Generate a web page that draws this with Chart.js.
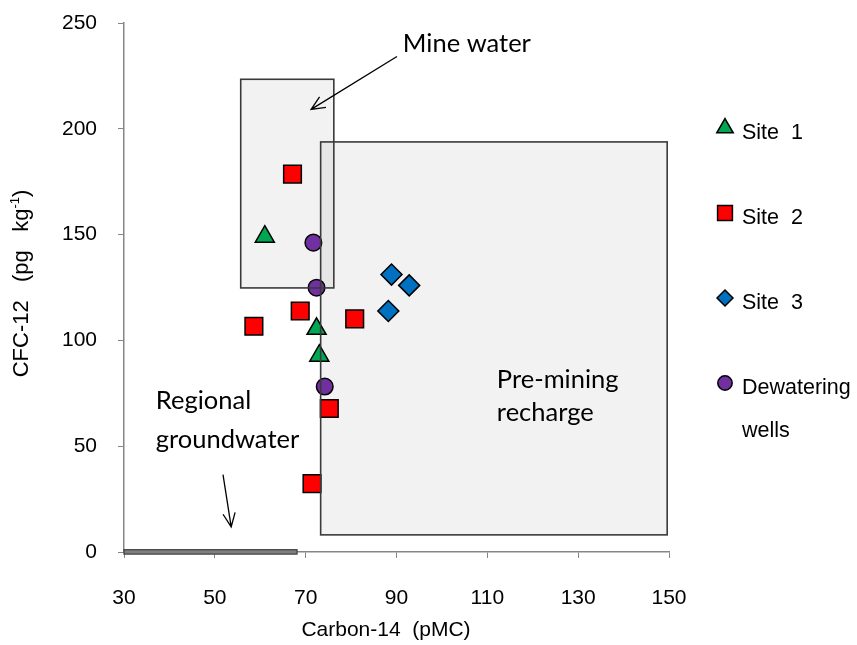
<!DOCTYPE html>
<html>
<head>
<meta charset="utf-8">
<script src="https://cdn.jsdelivr.net/npm/chart.js@4.4.0/dist/chart.umd.min.js"></script>
<style>
  html, body { margin: 0; padding: 0; background: #fff; }
  canvas { display: block; }
</style>
</head>
<body>
<canvas id="chart" width="857" height="645"></canvas>
<script>
// Axis ticks
const xTicks = [30, 50, 70, 90, 110, 130, 150];
const yTicks = [0, 50, 100, 150, 200, 250];

// Carbon-14 (pMC), CFC-12 (pg/kg) per group
const site1C14 = [61.0, 72.4, 73.0];
const site1CFC = [149.0, 105.5, 92.8];
const site2C14 = [67.1, 58.6, 68.8, 80.8, 75.2, 71.4];
const site2CFC = [178.6, 106.7, 113.9, 110.2, 67.8, 32.3];
const site3C14 = [88.9, 92.8, 88.2];
const site3CFC = [131.1, 126.0, 113.9];
const wellsC14 = [71.7, 72.4, 74.2];
const wellsCFC = [146.2, 124.9, 78.2];

// Zones: [xMin, yMin, xMax, yMax] in data units
const mineZone = [55.7, 124.8, 76.2, 223.4];
const premineZone = [73.3, 8.1, 149.6, 193.8];
const regionalBar = [30, -1.0, 68.1, 1.1];

// Arrows: [x1, y1, x2, y2] in data units
const mineArrow = [90.1, 234.2, 71.2, 209.2];
const regionalArrow = [51.8, 36.6, 53.6, 11.9];

function pts(xs, ys) {
    return xs.map((x, i) => ({ x: x, y: ys[i] }));
}

const groups = [
    { label: 'Site  1', data: pts(site1C14, site1CFC), style: 'triangle', color: '#00a651', r: 11, lr: 9.5 },
    { label: 'Site  2', data: pts(site2C14, site2CFC), style: 'rect', color: '#ff0000', r: 12.5, lr: 10.5 },
    { label: 'Site  3', data: pts(site3C14, site3CFC), style: 'rectRot', color: '#0070c0', r: 10.5, lr: 8 },
    { label: 'Dewatering', label2: 'wells', data: pts(wellsC14, wellsCFC), style: 'circle', color: '#7030a0', r: 8.3, lr: 7.2 }
];

const arialFont = '"Liberation Sans", Arial, sans-serif';

function zoneRect(chart, b) {
    const xs = chart.scales.x, ys = chart.scales.y;
    const x1 = xs.getPixelForValue(b[0]), x2 = xs.getPixelForValue(b[2]);
    const y1 = ys.getPixelForValue(b[3]), y2 = ys.getPixelForValue(b[1]);
    return [x1, y1, x2 - x1, y2 - y1];
}

const zonesPlugin = {
    id: 'zones',
    beforeDatasetsDraw(chart) {
        const ctx = chart.ctx;
        ctx.save();
        ctx.fillStyle = 'rgba(0,0,0,0.05)';
        ctx.fillRect(...zoneRect(chart, mineZone));
        ctx.fillRect(...zoneRect(chart, premineZone));
        ctx.fillStyle = '#7f7f7f';
        ctx.strokeStyle = '#404040';
        ctx.lineWidth = 1.2;
        ctx.fillRect(...zoneRect(chart, regionalBar));
        ctx.strokeRect(...zoneRect(chart, regionalBar));
        ctx.restore();
    },
    afterDatasetsDraw(chart) {
        const ctx = chart.ctx;
        const xs = chart.scales.x, ys = chart.scales.y;
        ctx.save();
        // zone outlines sit on top of the markers
        ctx.strokeStyle = '#3a3a3a';
        ctx.lineWidth = 1.6;
        ctx.strokeRect(...zoneRect(chart, mineZone));
        ctx.strokeRect(...zoneRect(chart, premineZone));

        const arrow = (a) => {
            const x1 = xs.getPixelForValue(a[0]), y1 = ys.getPixelForValue(a[1]);
            const x2 = xs.getPixelForValue(a[2]), y2 = ys.getPixelForValue(a[3]);
            const ang = Math.atan2(y2 - y1, x2 - x1);
            const h = 15, spread = 0.42;
            ctx.beginPath();
            ctx.moveTo(x1, y1);
            ctx.lineTo(x2, y2);
            ctx.moveTo(x2 - h * Math.cos(ang - spread), y2 - h * Math.sin(ang - spread));
            ctx.lineTo(x2, y2);
            ctx.lineTo(x2 - h * Math.cos(ang + spread), y2 - h * Math.sin(ang + spread));
            ctx.stroke();
        };
        ctx.strokeStyle = '#000';
        ctx.lineWidth = 1.3;
        arrow(mineArrow);
        arrow(regionalArrow);

        ctx.fillStyle = '#000';
        ctx.font = '25.5px Lato, "Open Sans", sans-serif';
        ctx.textAlign = 'left';
        ctx.textBaseline = 'middle';
        const text = (s, x, y) => ctx.fillText(s, xs.getPixelForValue(x), ys.getPixelForValue(y));
        text('Mine water', 91.4, 240.4);
        text('Regional', 37.0, 71.3);
        text('groundwater', 37.0, 53.2);
        text('Pre-mining', 112.1, 81.2);
        text('recharge', 112.1, 65.6);
        ctx.restore();
    },
    afterDraw(chart) {
        const ctx = chart.ctx;
        ctx.save();
        ctx.fillStyle = '#000';
        ctx.textBaseline = 'middle';

        // x axis title
        ctx.font = '21px ' + arialFont;
        ctx.textAlign = 'center';
        ctx.fillText('Carbon-14  (pMC)', 386, 630);

        // y axis title with superscript
        ctx.save();
        ctx.translate(22, 283.5);
        ctx.rotate(-Math.PI / 2);
        const main = '22px ' + arialFont;
        const sup = '13px ' + arialFont;
        const parts = [['CFC-12   (pg   kg', main, 0], ['-1', sup, -7], [')', main, 0]];
        let total = 0;
        parts.forEach(p => { ctx.font = p[1]; total += ctx.measureText(p[0]).width; });
        let cx = -total / 2;
        ctx.textAlign = 'left';
        parts.forEach(p => {
            ctx.font = p[1];
            ctx.fillText(p[0], cx, p[2]);
            cx += ctx.measureText(p[0]).width;
        });
        ctx.restore();

        // legend
        const rows = [128, 213, 298, 383];
        groups.forEach((g, i) => {
            ctx.fillStyle = g.color;
            ctx.strokeStyle = '#000';
            ctx.lineWidth = 1.5;
            Chart.helpers.drawPoint(ctx, { pointStyle: g.style, radius: g.lr, rotation: 0, borderWidth: 1.5 }, 725, rows[i]);
            ctx.fillStyle = '#000';
            ctx.font = '21.5px ' + arialFont;
            ctx.textAlign = 'left';
            ctx.textBaseline = 'middle';
            ctx.fillText(g.label, 742, rows[i] + 5);
            if (g.label2) ctx.fillText(g.label2, 742, rows[i] + 48);
        });
        ctx.restore();
    }
};

const axisColor = '#868686';
const tickFont = { family: arialFont, size: 21 };

new Chart(document.getElementById('chart'), {
    type: 'scatter',
    data: {
        datasets: groups.map(g => ({
            label: g.label,
            data: g.data,
            pointStyle: g.style,
            pointRadius: g.r,
            pointHoverRadius: g.r,
            backgroundColor: g.color,
            borderColor: '#000',
            borderWidth: 1.5
        }))
    },
    options: {
        responsive: false,
        animation: false,
        events: [],
        layout: { padding: { left: 0, right: 188, top: 23, bottom: 0 } },
        plugins: {
            legend: { display: false },
            tooltip: { enabled: false }
        },
        scales: {
            x: {
                type: 'linear',
                min: 30,
                max: 150,
                afterBuildTicks: s => { s.ticks = xTicks.map(v => ({ value: v })); },
                afterFit: s => { s.height = 93; s.paddingLeft = 0; s.paddingRight = 0; },
                grid: { drawOnChartArea: false, tickLength: 6, tickColor: axisColor },
                border: { color: axisColor, width: 1.5 },
                ticks: { font: tickFont, color: '#000', padding: 28, maxRotation: 0 }
            },
            y: {
                type: 'linear',
                min: 0,
                max: 250,
                afterBuildTicks: s => { s.ticks = yTicks.map(v => ({ value: v })); },
                afterFit: s => { s.width = 124; s.paddingTop = 0; s.paddingBottom = 0; },
                grid: { drawOnChartArea: false, tickLength: 6, tickColor: axisColor },
                border: { color: axisColor, width: 1.5 },
                ticks: { font: tickFont, color: '#000', padding: 21 }
            }
        }
    },
    plugins: [zonesPlugin]
});
</script>
</body>
</html>
